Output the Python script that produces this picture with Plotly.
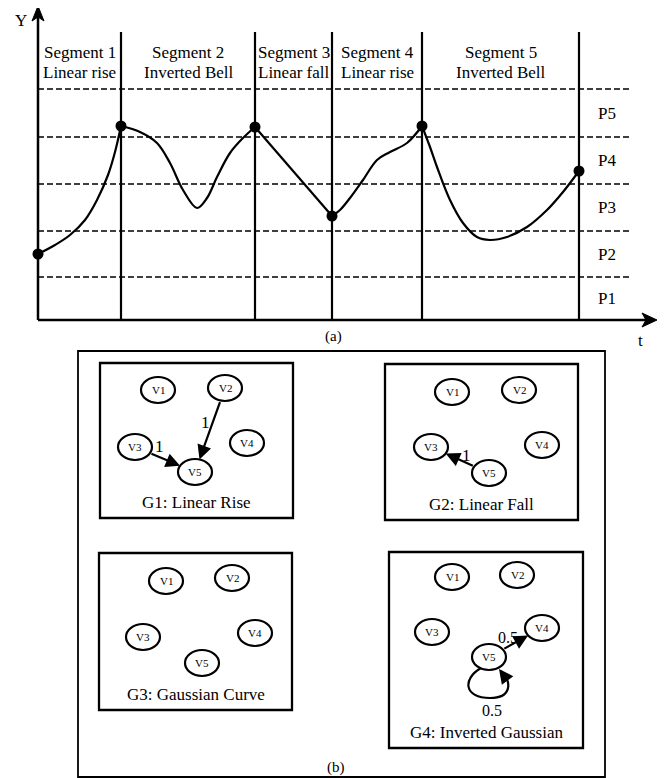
import math
import plotly.graph_objects as go

W, H = 671, 778
FONT = "Liberation Serif"
PAGE_OFF = 8  # page body margin

# ---------------- Panel (a): segmented time series ----------------
# time axis t and value axis y in arbitrary units
seg_bounds = [0, 83, 217, 294, 384, 541]
seg_names = ["Segment 1", "Segment 2", "Segment 3", "Segment 4", "Segment 5"]
seg_types = ["Linear rise", "Inverted Bell", "Linear fall", "Linear rise", "Inverted Bell"]
levels = [43, 89, 136, 183, 231]          # dashed level boundaries
level_labels = ["P1", "P2", "P3", "P4", "P5"]
y_axis_top = 314
t_axis_end = 619

seg1_t = [0, 17, 32, 47, 59, 70, 77, 83]
seg1_y = [66, 75, 85, 100, 120, 145, 168, 194]
seg2_t = [83, 102, 119, 132, 145, 159, 169, 179, 192, 205, 217]
seg2_y = [194, 188, 177, 157, 130, 112, 122, 143, 167, 182, 193]
seg3_t = [217, 294]
seg3_y = [193, 104]
seg4_t = [294, 302, 312, 325, 339, 352, 369, 384]
seg4_y = [104, 110, 122, 140, 160, 168, 177, 194]
seg5_t = [384, 392, 399, 412, 425, 439, 452, 469, 489, 509, 525, 541]
seg5_y = [194, 173, 153, 120, 97, 83, 80, 83, 93, 110, 128, 149]

knot_y = [seg1_y[0], seg2_y[0], seg3_y[0], seg4_y[0], seg5_y[0], seg5_y[-1]]

# ---------------- Panel (b): graph templates ----------------
graph_titles = ["G1: Linear Rise", "G2: Linear Fall", "G3: Gaussian Curve", "G4: Inverted Gaussian"]
graph_boxes = [(100, 363, 293, 518), (385, 364, 578, 520), (99, 553, 292, 710), (389, 552, 583, 748)]
node_names = ["V1", "V2", "V3", "V4", "V5"]
nodes_x = [[158, 225, 135, 247, 195], [452, 519, 431, 542, 489],
           [166, 232, 143, 255, 202], [452, 517, 432, 542, 489]]
nodes_y = [[390, 388, 447, 443, 472], [392, 390, 447, 445, 473],
           [581, 578, 637, 633, 663], [577, 575, 632, 628, 657]]
# (graph, source, target, weight, label dx, label dy)
edges = [(0, 1, 4, "1", -5, -8), (0, 2, 4, "1", -6, -13),
         (1, 4, 2, "1", 6, -5), (3, 4, 3, "0.5", -8, -5)]
self_loops = [(3, 4, "0.5")]
outer_box = (78, 351, 605, 777)

RX, RY = 17, 13

fig = go.Figure()

# level dashed lines
for lv in levels:
    fig.add_trace(go.Scatter(x=[0, 594], y=[lv, lv], mode="lines",
                             line=dict(color="black", width=1.3, dash="6px,3px"),
                             hoverinfo="skip"))
# segment boundaries
for b in seg_bounds[1:]:
    fig.add_trace(go.Scatter(x=[b, b], y=[0, 288], mode="lines",
                             line=dict(color="black", width=2.2), hoverinfo="skip"))
# axes lines
fig.add_trace(go.Scatter(x=[0, 0], y=[0, y_axis_top - 8], mode="lines",
                         line=dict(color="black", width=2.5), hoverinfo="skip"))
fig.add_trace(go.Scatter(x=[0, t_axis_end - 8], y=[0, 0], mode="lines",
                         line=dict(color="black", width=2.5), hoverinfo="skip"))
# curve segments
for tt, yy, shp in [(seg1_t, seg1_y, "spline"), (seg2_t, seg2_y, "spline"),
                    (seg3_t, seg3_y, "linear"), (seg4_t, seg4_y, "spline"),
                    (seg5_t, seg5_y, "spline")]:
    fig.add_trace(go.Scatter(x=tt, y=yy, mode="lines",
                             line=dict(color="black", width=2.2, shape=shp, smoothing=1.0),
                             hoverinfo="skip"))
fig.add_trace(go.Scatter(x=seg_bounds, y=knot_y, mode="markers",
                         marker=dict(color="black", size=11), hoverinfo="skip"))

shapes = []
# arrowheads of the axes
shapes.append(dict(type="path", xref="x", yref="y",
                   path=f"M 0,{y_axis_top} L 6,{y_axis_top-15} L 0,{y_axis_top-11} L -6,{y_axis_top-15} Z",
                   fillcolor="black", line=dict(color="black", width=1)))
shapes.append(dict(type="path", xref="x", yref="y",
                   path=f"M {t_axis_end},0 L {t_axis_end-15},7 L {t_axis_end-11},0 L {t_axis_end-15},-7 Z",
                   fillcolor="black", line=dict(color="black", width=1)))

ann = []
def txt(x, y, s, size=17, xref="x", yref="y"):
    ann.append(dict(x=x, y=y, text=s, xref=xref, yref=yref, showarrow=False,
                    font=dict(family=FONT, size=size, color="black"),
                    xanchor="center", yanchor="middle"))

for i in range(5):
    cx = (seg_bounds[i] + seg_bounds[i + 1]) / 2
    txt(cx, 268, seg_names[i])
    txt(cx, 248, seg_types[i])
level_edges = [0] + levels
for i in range(5):
    txt(569, (level_edges[i] + level_edges[i + 1]) / 2, level_labels[i])
txt(-17, 300, "Y")
txt(602, -20, "t")
txt(295, -16, "(a)", size=15)

# ---------------- Panel (b) drawing ----------------
shapes.append(dict(type="rect", xref="x2", yref="y2", x0=outer_box[0], y0=outer_box[1],
                   x1=outer_box[2], y1=outer_box[3], line=dict(color="black", width=1.8)))
for g, (x0, y0, x1, y1) in enumerate(graph_boxes):
    shapes.append(dict(type="rect", xref="x2", yref="y2", x0=x0, y0=y0, x1=x1, y1=y1,
                       line=dict(color="black", width=2.3)))
    txt((x0 + x1) / 2, y1 - 16, graph_titles[g], size=17, xref="x2", yref="y2")
    for k in range(5):
        cx, cy = nodes_x[g][k], nodes_y[g][k]
        shapes.append(dict(type="circle", xref="x2", yref="y2", x0=cx - RX, x1=cx + RX,
                           y0=cy - RY, y1=cy + RY, line=dict(color="black", width=2.2)))
        txt(cx, cy, node_names[k], size=11, xref="x2", yref="y2")

def boundary(cx, cy, ux, uy):
    t = 1.0 / math.sqrt((ux / RX) ** 2 + (uy / RY) ** 2)
    return cx + ux * t, cy + uy * t

for g, s, d, w, ldx, ldy in edges:
    sx, sy = nodes_x[g][s], nodes_y[g][s]
    dx_, dy_ = nodes_x[g][d], nodes_y[g][d]
    L = math.hypot(dx_ - sx, dy_ - sy)
    ux, uy = (dx_ - sx) / L, (dy_ - sy) / L
    tx, ty = boundary(sx, sy, ux, uy)
    hx, hy = boundary(dx_, dy_, -ux, -uy)
    ann.append(dict(x=hx, y=hy, ax=tx, ay=ty, xref="x2", yref="y2", axref="x2", ayref="y2",
                    showarrow=True, arrowhead=2, arrowsize=1.3, arrowwidth=2.2,
                    arrowcolor="black", text="", standoff=0, startstandoff=0))
    txt((sx + dx_) / 2 + ldx, (sy + dy_) / 2 + ldy, w, size=17 if w == "1" else 16,
        xref="x2", yref="y2")

for g, k, w in self_loops:
    cx, cy = nodes_x[g][k], nodes_y[g][k]
    shapes.append(dict(type="path", xref="x2", yref="y2",
                       path=(f"M {cx-8},{cy+11} C {cx-27},{cy+22} {cx-25},{cy+41} {cx+1},{cy+41} "
                             f"C {cx+23},{cy+41} {cx+23},{cy+25} {cx+12},{cy+14}"),
                       line=dict(color="black", width=2.2)))
    ann.append(dict(x=cx + 10, y=cy + 12, ax=cx + 16, ay=cy + 20, xref="x2", yref="y2",
                    axref="x2", ayref="y2", showarrow=True, arrowhead=2, arrowsize=1.3,
                    arrowwidth=2.2, arrowcolor="black", text="", standoff=0))
    txt(cx + 3, cy + 53, w, size=16, xref="x2", yref="y2")

txt((outer_box[0] + outer_box[2]) / 2 - 6, 767, "(b)", size=15, xref="x2", yref="y2")

ax_off = dict(showgrid=False, zeroline=False, showticklabels=False, showline=False,
              ticks="", fixedrange=True)
fig.update_layout(
    width=W, height=H, margin=dict(l=0, r=0, t=0, b=0),
    paper_bgcolor="white", plot_bgcolor="white", showlegend=False,
    xaxis=dict(range=[-38 + PAGE_OFF, W - 38 + PAGE_OFF], domain=[0, 1], anchor="y", **ax_off),
    yaxis=dict(range=[320 - PAGE_OFF - H, 320 - PAGE_OFF], domain=[0, 1], anchor="x", **ax_off),
    xaxis2=dict(range=[PAGE_OFF, W + PAGE_OFF], domain=[0, 1], anchor="y2", overlaying="x", **ax_off),
    yaxis2=dict(range=[H + PAGE_OFF, PAGE_OFF], domain=[0, 1], anchor="x2", overlaying="y", **ax_off),
    shapes=shapes, annotations=ann,
)
fig.write_html("out.html")
